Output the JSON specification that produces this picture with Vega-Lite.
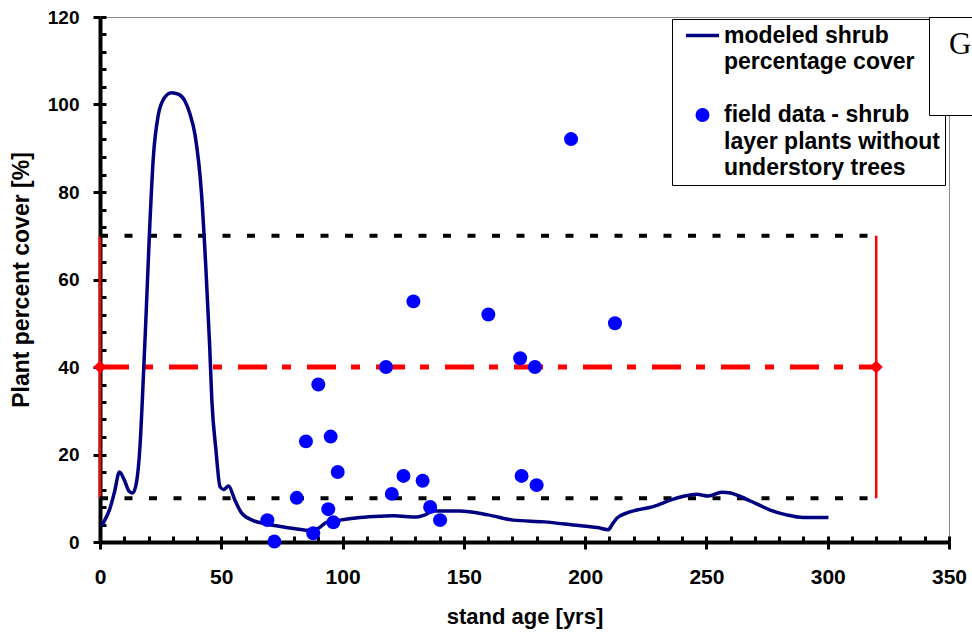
{
  "$schema": "https://vega.github.io/schema/vega-lite/v6.json",
  "autosize": {"type": "none"},
  "padding": {"left": 100, "top": 17, "right": 23, "bottom": 91},
  "width": 849,
  "height": 525,
  "background": "white",
  "config": {
    "view": {"stroke": "#8c8c8c", "strokeWidth": 1},
    "font": "Liberation Sans",
    "legend": {
      "title": null,
      "orient": "none",
      "legendX": 572,
      "legendY": 2,
      "padding": 5,
      "strokeColor": "black",
      "fillColor": "white",
      "symbolOffset": 14,
      "labelOffset": 10,
      "labelFont": "Liberation Sans",
      "labelFontWeight": "bold",
      "labelFontSize": 23,
      "labelColor": "black",
      "labelLimit": 400,
      "rowPadding": 2.5,
      "symbolStrokeWidth": 0,
      "symbolOpacity": 1
    }
  },
  "resolve": {"axis": {"x": "independent", "y": "independent"}},
  "datasets": {
    "curve": [
      {"age": 0.5, "cover": 3.6, "s": "model"},
      {"age": 2, "cover": 5, "s": "model"},
      {"age": 4, "cover": 7.5, "s": "model"},
      {"age": 6, "cover": 11.5, "s": "model"},
      {"age": 8, "cover": 16, "s": "model"},
      {"age": 10, "cover": 14.2, "s": "model"},
      {"age": 12, "cover": 11.6, "s": "model"},
      {"age": 13.5, "cover": 11.2, "s": "model"},
      {"age": 15, "cover": 13.5, "s": "model"},
      {"age": 16.5, "cover": 22, "s": "model"},
      {"age": 17.5, "cover": 33, "s": "model"},
      {"age": 19, "cover": 52, "s": "model"},
      {"age": 20.5, "cover": 72, "s": "model"},
      {"age": 22, "cover": 88, "s": "model"},
      {"age": 24, "cover": 97.5, "s": "model"},
      {"age": 26.5, "cover": 101.5, "s": "model"},
      {"age": 29.5, "cover": 102.7, "s": "model"},
      {"age": 32.5, "cover": 102.3, "s": "model"},
      {"age": 35, "cover": 100.8, "s": "model"},
      {"age": 37, "cover": 98, "s": "model"},
      {"age": 39.2, "cover": 93, "s": "model"},
      {"age": 41.8, "cover": 80, "s": "model"},
      {"age": 43.7, "cover": 62, "s": "model"},
      {"age": 45.2, "cover": 45, "s": "model"},
      {"age": 46.1, "cover": 32.5, "s": "model"},
      {"age": 47.8, "cover": 21, "s": "model"},
      {"age": 49.5, "cover": 12.6, "s": "model"},
      {"age": 51, "cover": 12, "s": "model"},
      {"age": 53, "cover": 12.8, "s": "model"},
      {"age": 55.6, "cover": 9.6, "s": "model"},
      {"age": 58.4, "cover": 6.6, "s": "model"},
      {"age": 63.2, "cover": 4.9, "s": "model"},
      {"age": 68.7, "cover": 4.1, "s": "model"},
      {"age": 78.3, "cover": 3.2, "s": "model"},
      {"age": 87.9, "cover": 2.6, "s": "model"},
      {"age": 90.5, "cover": 3.3, "s": "model"},
      {"age": 93.4, "cover": 4.5, "s": "model"},
      {"age": 98.9, "cover": 5.0, "s": "model"},
      {"age": 107.2, "cover": 5.6, "s": "model"},
      {"age": 115.4, "cover": 5.9, "s": "model"},
      {"age": 121, "cover": 6.0, "s": "model"},
      {"age": 130.6, "cover": 5.7, "s": "model"},
      {"age": 134, "cover": 6.2, "s": "model"},
      {"age": 137.4, "cover": 7.1, "s": "model"},
      {"age": 148.4, "cover": 7.1, "s": "model"},
      {"age": 160, "cover": 6.2, "s": "model"},
      {"age": 170.4, "cover": 5.0, "s": "model"},
      {"age": 183, "cover": 4.6, "s": "model"},
      {"age": 195.1, "cover": 3.9, "s": "model"},
      {"age": 205, "cover": 3.3, "s": "model"},
      {"age": 209.6, "cover": 2.8, "s": "model"},
      {"age": 211, "cover": 3.9, "s": "model"},
      {"age": 213, "cover": 5.4, "s": "model"},
      {"age": 217, "cover": 6.6, "s": "model"},
      {"age": 221.3, "cover": 7.3, "s": "model"},
      {"age": 228.1, "cover": 8.1, "s": "model"},
      {"age": 236.4, "cover": 9.8, "s": "model"},
      {"age": 241, "cover": 10.5, "s": "model"},
      {"age": 246, "cover": 10.9, "s": "model"},
      {"age": 250.8, "cover": 10.5, "s": "model"},
      {"age": 256.3, "cover": 11.4, "s": "model"},
      {"age": 260, "cover": 11.2, "s": "model"},
      {"age": 263.9, "cover": 10.4, "s": "model"},
      {"age": 270, "cover": 8.9, "s": "model"},
      {"age": 276.3, "cover": 7.3, "s": "model"},
      {"age": 283, "cover": 6.2, "s": "model"},
      {"age": 290, "cover": 5.6, "s": "model"},
      {"age": 295, "cover": 5.6, "s": "model"},
      {"age": 300.3, "cover": 5.6, "s": "model"}
    ],
    "points": [
      {"age": 129.2, "cover": 55, "s": "field"},
      {"age": 160.1, "cover": 52, "s": "field"},
      {"age": 212.3, "cover": 50, "s": "field"},
      {"age": 173.2, "cover": 42, "s": "field"},
      {"age": 179.3, "cover": 40, "s": "field"},
      {"age": 117.9, "cover": 40, "s": "field"},
      {"age": 90, "cover": 36, "s": "field"},
      {"age": 84.9, "cover": 23, "s": "field"},
      {"age": 95.1, "cover": 24.1, "s": "field"},
      {"age": 98, "cover": 16, "s": "field"},
      {"age": 125.1, "cover": 15.1, "s": "field"},
      {"age": 133, "cover": 14, "s": "field"},
      {"age": 173.8, "cover": 15.1, "s": "field"},
      {"age": 180, "cover": 13, "s": "field"},
      {"age": 81.1, "cover": 10.1, "s": "field"},
      {"age": 120.3, "cover": 11, "s": "field"},
      {"age": 69, "cover": 5, "s": "field"},
      {"age": 94.1, "cover": 7.5, "s": "field"},
      {"age": 96.2, "cover": 4.5, "s": "field"},
      {"age": 87.9, "cover": 2, "s": "field"},
      {"age": 71.9, "cover": 0.1, "s": "field"},
      {"age": 136.1, "cover": 8, "s": "field"},
      {"age": 140.2, "cover": 5, "s": "field"},
      {"age": 194.2, "cover": 92.1, "s": "field"}
    ],
    "bounds": [
      {"from": 0, "to": 320, "cover": 10},
      {"from": 0, "to": 320, "cover": 70}
    ],
    "mean": [
      {"from": 0, "to": 320, "cover": 40}
    ],
    "ends": [
      {"age": 0, "low": 10, "high": 70, "mid": 40},
      {"age": 320, "low": 10, "high": 70, "mid": 40}
    ]
  },
  "layer": [
    {
      "data": {"name": "ends"},
      "mark": {"type": "rule", "color": "#ff0000", "strokeWidth": 2.5},
      "encoding": {
        "x": {
          "field": "age", "type": "quantitative",
          "scale": {"domain": [0, 350], "nice": false},
          "axis": {
            "orient": "bottom",
            "values": [0, 50, 100, 150, 200, 250, 300, 350],
            "tickSize": 7,
            "tickWidth": 3,
            "tickColor": "black",
            "domainColor": "black",
            "domainWidth": 4,
            "grid": false,
            "labelFont": "Liberation Sans",
            "labelFontWeight": "bold",
            "labelFontSize": 21,
            "labelColor": "black",
            "labelPadding": 17,
            "labelFlush": false,
            "labelOverlap": false,
            "labelBound": false,
            "title": "stand age [yrs]",
            "titleFont": "Liberation Sans",
            "titleFontWeight": "bold",
            "titleFontSize": 22,
            "titleColor": "black",
            "titlePadding": 19
          }
        },
        "y": {
          "field": "low", "type": "quantitative",
          "scale": {"domain": [0, 120], "nice": false},
          "axis": {
            "orient": "left",
            "values": [0, 20, 40, 60, 80, 100, 120],
            "tickSize": 7,
            "tickWidth": 3,
            "tickColor": "black",
            "domainColor": "black",
            "domainWidth": 4,
            "grid": false,
            "labelFont": "Liberation Sans",
            "labelFontWeight": "bold",
            "labelFontSize": 19,
            "labelColor": "black",
            "labelPadding": 14,
            "labelOverlap": false,
            "labelBound": false,
            "title": "Plant percent cover [%]",
            "titleFont": "Liberation Sans",
            "titleFontWeight": "bold",
            "titleFontSize": 23,
            "titleColor": "black",
            "titlePadding": 14
          }
        },
        "y2": {"field": "high"}
      }
    },
    {
      "data": {"name": "bounds"},
      "mark": {"type": "rule", "color": "black", "strokeWidth": 4, "strokeDash": [8, 16.5]},
      "encoding": {
        "x": {
          "field": "from", "type": "quantitative",
          "axis": {
            "orient": "bottom",
            "offset": -6,
            "values": [0,10,20,30,40,50,60,70,80,90,100,110,120,130,140,150,160,170,180,190,200,210,220,230,240,250,260,270,280,290,300,310,320,330,340,350],
            "tickSize": 6,
            "tickWidth": 3,
            "tickColor": "black",
            "domain": false,
            "labels": false,
            "grid": false,
            "title": null
          }
        },
        "x2": {"field": "to"},
        "y": {
          "field": "cover", "type": "quantitative",
          "axis": {
            "orient": "left",
            "offset": -6,
            "values": [0,4,8,12,16,20,24,28,32,36,40,44,48,52,56,60,64,68,72,76,80,84,88,92,96,100,104,108,112,116,120],
            "tickSize": 6,
            "tickWidth": 3,
            "tickColor": "black",
            "domain": false,
            "labels": false,
            "grid": false,
            "title": null
          }
        }
      }
    },
    {
      "data": {"name": "mean"},
      "mark": {"type": "rule", "color": "#ff0000", "strokeWidth": 5, "strokeDash": [29, 15, 9, 16]},
      "encoding": {
        "x": {"field": "from", "type": "quantitative", "axis": null},
        "x2": {"field": "to"},
        "y": {"field": "cover", "type": "quantitative", "axis": null}
      }
    },
    {
      "data": {"name": "curve"},
      "mark": {"type": "line", "strokeWidth": 3.5, "interpolate": "monotone"},
      "encoding": {
        "x": {"field": "age", "type": "quantitative", "axis": null},
        "y": {"field": "cover", "type": "quantitative", "axis": null},
        "color": {
          "field": "s", "type": "nominal",
          "scale": {
            "domain": ["model", "model2", "gap", "field", "field2", "field3"],
            "range": ["#000080", "#000080", "#000080", "#0000ff", "#0000ff", "#0000ff"]
          },
          "legend": {
            "labelExpr": "datum.value === 'model' ? 'modeled shrub' : datum.value === 'model2' ? 'percentage cover' : datum.value === 'gap' ? ' ' : datum.value === 'field' ? 'field data - shrub' : datum.value === 'field2' ? 'layer plants without' : 'understory trees'"
          }
        }
      }
    },
    {
      "data": {"name": "points"},
      "mark": {"type": "point", "filled": true, "opacity": 1, "strokeWidth": 0},
      "encoding": {
        "x": {"field": "age", "type": "quantitative", "axis": null},
        "y": {"field": "cover", "type": "quantitative", "axis": null},
        "color": {
          "field": "s", "type": "nominal",
          "scale": {
            "domain": ["model", "model2", "gap", "field", "field2", "field3"],
            "range": ["#000080", "#000080", "#000080", "#0000ff", "#0000ff", "#0000ff"]
          },
          "legend": {
            "labelExpr": "datum.value === 'model' ? 'modeled shrub' : datum.value === 'model2' ? 'percentage cover' : datum.value === 'gap' ? ' ' : datum.value === 'field' ? 'field data - shrub' : datum.value === 'field2' ? 'layer plants without' : 'understory trees'"
          }
        },
        "shape": {
          "field": "s", "type": "nominal",
          "scale": {
            "domain": ["model", "model2", "gap", "field", "field2", "field3"],
            "range": ["M-4.71,-0.5H4.71V0.5H-4.71Z", "circle", "circle", "circle", "circle", "circle"]
          },
          "legend": {
            "labelExpr": "datum.value === 'model' ? 'modeled shrub' : datum.value === 'model2' ? 'percentage cover' : datum.value === 'gap' ? ' ' : datum.value === 'field' ? 'field data - shrub' : datum.value === 'field2' ? 'layer plants without' : 'understory trees'"
          }
        },
        "size": {
          "field": "s", "type": "nominal",
          "scale": {
            "type": "ordinal",
            "domain": ["model", "model2", "gap", "field", "field2", "field3"],
            "range": [49, 0, 0, 195, 0, 0]
          },
          "legend": {
            "labelExpr": "datum.value === 'model' ? 'modeled shrub' : datum.value === 'model2' ? 'percentage cover' : datum.value === 'gap' ? ' ' : datum.value === 'field' ? 'field data - shrub' : datum.value === 'field2' ? 'layer plants without' : 'understory trees'"
          }
        }
      }
    },
    {
      "data": {"name": "ends"},
      "mark": {"type": "point", "shape": "diamond", "filled": true, "color": "#ff0000", "size": 170, "opacity": 1},
      "encoding": {
        "x": {"field": "age", "type": "quantitative", "axis": null},
        "y": {"field": "mid", "type": "quantitative", "axis": null},
        "opacity": {
          "datum": "G", "type": "ordinal",
          "scale": {"range": [1, 1]},
          "legend": {
            "title": "G",
            "orient": "none",
            "legendX": 829,
            "legendY": 0,
            "zindex": 2,
            "padding": 20,
            "strokeColor": "black",
            "fillColor": "white",
            "titleFont": "Liberation Serif",
            "titleFontSize": 31,
            "titleFontWeight": "normal",
            "titleColor": "black",
            "titleBaseline": "line-top",
            "titleLineHeight": 17,
            "titlePadding": 26,
            "labelExpr": "''",
            "labelFontSize": 1,
            "symbolSize": 0,
            "symbolOpacity": 0,
            "symbolStrokeWidth": 0
          }
        }
      }
    }
  ]
}
